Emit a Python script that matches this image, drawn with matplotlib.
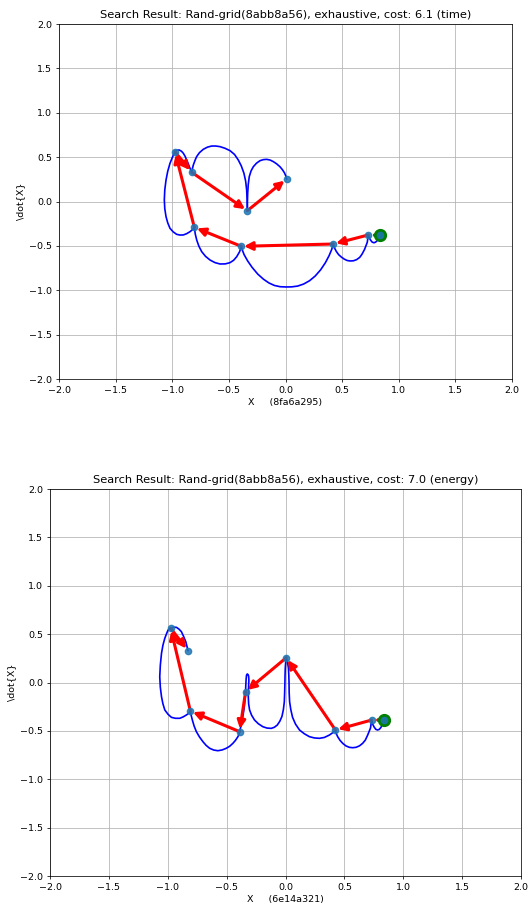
import matplotlib
matplotlib.use("Agg")
import matplotlib.pyplot as plt

# ---- top panel: time-optimal search -------------------------------------
time_title = "Search Result: Rand-grid(8abb8a56), exhaustive, cost: 6.1 (time)"
time_xlabel = "X     (8fa6a295)"
time_start = (0.834, -0.381)
# waypoints in visiting order (x, xdot)
time_wp_x = [0.834, 0.731, 0.422, -0.390, -0.805, -0.976, -0.828, -0.337, 0.010]
time_wp_y = [-0.381, -0.377, -0.479, -0.505, -0.291, 0.561, 0.329, -0.104, 0.254]
# trajectory pieces between consecutive waypoints
time_seg_x = [
    [0.834, 0.826, 0.811, 0.795, 0.781, 0.766, 0.754, 0.740, 0.731],
    [0.731, 0.722, 0.698, 0.675, 0.655, 0.628, 0.600, 0.570, 0.545, 0.520, 0.495,
     0.470, 0.450, 0.433, 0.422],
    [0.422, 0.408, 0.385, 0.352, 0.310, 0.262, 0.212, 0.160, 0.107, 0.053, 0.004,
     -0.048, -0.098, -0.146, -0.194, -0.245, -0.295, -0.335, -0.365, -0.382, -0.390],
    [-0.390, -0.405, -0.431, -0.458, -0.490, -0.532, -0.578, -0.622, -0.667, -0.706,
     -0.740, -0.765, -0.784, -0.797, -0.805],
    [-0.805, -0.822, -0.843, -0.872, -0.902, -0.932, -0.961, -0.992, -1.020, -1.040,
     -1.055, -1.066, -1.070, -1.066, -1.055, -1.040, -1.020, -0.998, -0.976],
    [-0.976, -0.958, -0.938, -0.918, -0.902, -0.886, -0.873, -0.860, -0.849, -0.838,
     -0.828],
    [-0.828, -0.822, -0.814, -0.800, -0.785, -0.760, -0.726, -0.690, -0.652, -0.615,
     -0.578, -0.535, -0.490, -0.450, -0.417, -0.390, -0.367, -0.352, -0.343, -0.339,
     -0.337],
    [-0.337, -0.336, -0.334, -0.329, -0.320, -0.304, -0.284, -0.256, -0.225, -0.195,
     -0.166, -0.136, -0.107, -0.078, -0.049, -0.028, -0.010, 0.002, 0.010],
]
time_seg_y = [
    [-0.381, -0.415, -0.440, -0.458, -0.465, -0.458, -0.440, -0.410, -0.377],
    [-0.377, -0.460, -0.540, -0.595, -0.630, -0.655, -0.668, -0.670, -0.665, -0.650,
     -0.628, -0.600, -0.565, -0.525, -0.479],
    [-0.479, -0.540, -0.610, -0.690, -0.770, -0.840, -0.893, -0.930, -0.953, -0.962,
     -0.963, -0.960, -0.946, -0.918, -0.876, -0.818, -0.742, -0.668, -0.600, -0.545,
     -0.505],
    [-0.505, -0.565, -0.622, -0.662, -0.689, -0.703, -0.704, -0.689, -0.659, -0.618,
     -0.565, -0.503, -0.434, -0.365, -0.291],
    [-0.291, -0.318, -0.340, -0.362, -0.377, -0.378, -0.370, -0.342, -0.302, -0.240,
     -0.171, -0.080, 0.017, 0.130, 0.242, 0.340, 0.430, 0.500, 0.561],
    [0.561, 0.578, 0.580, 0.566, 0.543, 0.508, 0.468, 0.430, 0.392, 0.360, 0.329],
    [0.329, 0.370, 0.411, 0.460, 0.505, 0.550, 0.588, 0.612, 0.625, 0.625, 0.618,
     0.600, 0.573, 0.530, 0.468, 0.400, 0.318, 0.230, 0.130, 0.020, -0.104],
    [-0.104, 0.000, 0.092, 0.190, 0.280, 0.345, 0.392, 0.432, 0.460, 0.472, 0.475,
     0.467, 0.449, 0.424, 0.392, 0.360, 0.325, 0.290, 0.254],
]

# ---- bottom panel: energy-optimal search ---------------------------------
energy_title = "Search Result: Rand-grid(8abb8a56), exhaustive, cost: 7.0 (energy)"
energy_xlabel = "X     (6e14a321)"
energy_start = (0.833, -0.388)
energy_wp_x = [0.833, 0.731, 0.424, 0.006, -0.339, -0.390, -0.808, -0.975, -0.828]
energy_wp_y = [-0.388, -0.388, -0.491, 0.256, -0.095, -0.508, -0.295, 0.560, 0.329]
energy_seg_x = [
    [0.833, 0.826, 0.811, 0.797, 0.782, 0.767, 0.754, 0.740, 0.731],
    [0.731, 0.722, 0.698, 0.678, 0.655, 0.628, 0.599, 0.570, 0.542, 0.513, 0.486,
     0.463, 0.443, 0.430, 0.424],
    [0.424, 0.400, 0.373, 0.330, 0.288, 0.245, 0.203, 0.160, 0.119, 0.085, 0.060,
     0.045, 0.035, 0.031, 0.030, 0.028, 0.025, 0.017, 0.006],
    [0.006, 0.001, -0.002, -0.004, -0.005, -0.007, -0.010, -0.018, -0.030, -0.048,
     -0.070, -0.095, -0.121, -0.157, -0.192, -0.230, -0.263, -0.288, -0.305, -0.313,
     -0.316, -0.314, -0.311, -0.313, -0.318, -0.325, -0.331, -0.334, -0.336, -0.338,
     -0.339],
    [-0.339, -0.343, -0.350, -0.358, -0.367, -0.378, -0.390],
    [-0.390, -0.395, -0.404, -0.425, -0.447, -0.474, -0.503, -0.538, -0.574, -0.610,
     -0.644, -0.674, -0.701, -0.731, -0.757, -0.776, -0.791, -0.801, -0.808],
    [-0.808, -0.822, -0.842, -0.870, -0.898, -0.935, -0.969, -0.998, -1.025, -1.041,
     -1.053, -1.063, -1.068, -1.063, -1.053, -1.041, -1.025, -1.010, -0.997, -0.975],
    [-0.975, -0.950, -0.926, -0.905, -0.884, -0.865, -0.847, -0.836, -0.828],
]
energy_seg_y = [
    [-0.388, -0.430, -0.463, -0.484, -0.491, -0.484, -0.463, -0.430, -0.388],
    [-0.388, -0.470, -0.543, -0.595, -0.629, -0.655, -0.670, -0.674, -0.670, -0.655,
     -0.629, -0.598, -0.560, -0.525, -0.491],
    [-0.491, -0.520, -0.543, -0.568, -0.577, -0.573, -0.560, -0.530, -0.491, -0.430,
     -0.360, -0.280, -0.200, -0.100, 0.000, 0.080, 0.150, 0.210, 0.256],
    [0.256, 0.200, 0.150, 0.070, 0.000, -0.100, -0.200, -0.280, -0.350, -0.400,
     -0.440, -0.463, -0.474, -0.471, -0.457, -0.427, -0.388, -0.338, -0.284, -0.220,
     -0.147, -0.060, 0.026, 0.065, 0.082, 0.088, 0.075, 0.040, 0.000, -0.050,
     -0.095],
    [-0.095, -0.170, -0.250, -0.320, -0.388, -0.450, -0.508],
    [-0.508, -0.535, -0.560, -0.598, -0.629, -0.659, -0.680, -0.697, -0.705, -0.698,
     -0.680, -0.650, -0.612, -0.562, -0.508, -0.450, -0.388, -0.340, -0.295],
    [-0.295, -0.318, -0.336, -0.356, -0.370, -0.370, -0.360, -0.328, -0.284, -0.220,
     -0.147, -0.050, 0.060, 0.180, 0.302, 0.385, 0.457, 0.505, 0.543, 0.560],
    [0.560, 0.572, 0.570, 0.552, 0.525, 0.475, 0.422, 0.370, 0.329],
]

ticks = [-2.0, -1.5, -1.0, -0.5, 0.0, 0.5, 1.0, 1.5, 2.0]

# everything is drawn at about two thirds of the default sizes
s = 0.68
plt.rcParams.update({
    "font.size": 10 * s,
    "axes.titlesize": 12 * s,
    "axes.labelsize": 10 * s,
    "xtick.labelsize": 10 * s,
    "ytick.labelsize": 10 * s,
    "axes.titlepad": 6 * s,
    "axes.labelpad": 4 * s,
    "axes.linewidth": 0.8 * s,
    "grid.linewidth": 0.8 * s,
    "xtick.major.size": 3.5 * s,
    "ytick.major.size": 3.5 * s,
    "xtick.major.width": 0.8 * s,
    "ytick.major.width": 0.8 * s,
    "xtick.major.pad": 3.5 * s,
    "ytick.major.pad": 3.5 * s,
})

fig = plt.figure(figsize=(5.29, 9.05), dpi=100)
ax_top = fig.add_axes([59 / 529, 1 - 379 / 905, 453 / 529, 355 / 905])
ax_bot = fig.add_axes([50 / 529, 1 - 876 / 905, 471 / 529, 387 / 905])


def draw_panel(ax, title, xlabel, start, wp_x, wp_y, seg_x, seg_y):
    for sx, sy in zip(seg_x, seg_y):
        ax.plot(sx, sy, color="blue", lw=1.2, zorder=2)
    for i in range(len(wp_x) - 1):
        ax.annotate("", xy=(wp_x[i + 1], wp_y[i + 1]), xytext=(wp_x[i], wp_y[i]),
                    arrowprops=dict(arrowstyle="-|>", color="red", lw=2.2,
                                    mutation_scale=12, shrinkA=0, shrinkB=2),
                    zorder=3)
    ax.plot([start[0]], [start[1]], "o", color="green", ms=8.5, zorder=4)
    ax.plot(wp_x, wp_y, "o", color="#1f77b4", ms=4.5, alpha=0.85, ls="none", zorder=5)
    ax.set_xlim(-2, 2)
    ax.set_ylim(-2, 2)
    ax.set_xticks(ticks)
    ax.set_yticks(ticks)
    ax.grid(True)
    ax.set_title(title)
    ax.set_xlabel(xlabel)
    ax.set_ylabel("\\dot{X}")


draw_panel(ax_top, time_title, time_xlabel, time_start,
           time_wp_x, time_wp_y, time_seg_x, time_seg_y)
draw_panel(ax_bot, energy_title, energy_xlabel, energy_start,
           energy_wp_x, energy_wp_y, energy_seg_x, energy_seg_y)

fig.savefig("out.png", dpi=100)
